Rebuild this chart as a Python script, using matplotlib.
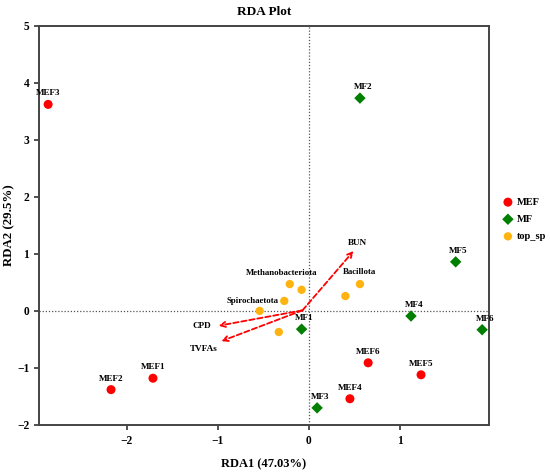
import matplotlib
matplotlib.use("Agg")
import matplotlib.pyplot as plt

plt.rcParams['font.family'] = ['Liberation Serif', 'DejaVu Serif']
plt.rcParams['font.weight'] = 'bold'

# Sample scores
mef_names = ["MEF1", "MEF2", "MEF3", "MEF4", "MEF5", "MEF6"]
mef_x = [-1.71, -2.17, -2.86, 0.45, 1.23, 0.65]
mef_y = [-1.18, -1.38, 3.62, -1.54, -1.12, -0.91]

mf_names = ["MF1", "MF2", "MF3", "MF4", "MF5", "MF6"]
mf_x = [-0.08, 0.56, 0.09, 1.12, 1.61, 1.90]
mf_y = [-0.32, 3.73, -1.70, -0.09, 0.86, -0.33]

# Species scores
sp_names = ["Methanobacteriota", "", "Spirochaetota", "", "", "", "Bacillota"]
sp_x = [-0.21, -0.08, -0.27, -0.54, -0.33, 0.40, 0.56]
sp_y = [0.47, 0.37, 0.175, 0.0, -0.37, 0.26, 0.47]

# Environmental vectors
env_names = ["BUN", "CPD", "TVFAs"]
env_x = [0.49, -0.99, -0.96]
env_y = [1.05, -0.26, -0.53]
origin = (-0.07, 0.01)

fig = plt.figure(figsize=(5.5, 4.72), dpi=100)
ax = fig.add_axes([0.0709, 0.0996, 0.8173, 0.846])

ax.axhline(0, color='#555555', ls=(0, (1, 1.5)), lw=0.9, zorder=1)
ax.axvline(0, color='#555555', ls=(0, (1, 1.5)), lw=0.9, zorder=1)

ax.scatter(mef_x, mef_y, s=42, marker='o', color='#ff0000', label='MEF', zorder=3, edgecolors='none')
ax.scatter(mf_x, mf_y, s=34, marker='D', color='#007f00', label='MF', zorder=3, edgecolors='none')
ax.scatter(sp_x, sp_y, s=36, marker='o', color='#ffb310', label='top_sp', zorder=3, edgecolors='none')

lab_kw = dict(textcoords='offset points', ha='center', va='bottom', fontsize=6.6, fontweight='bold')
for n, x, y in zip(mef_names, mef_x, mef_y):
    ax.annotate(n, (x, y), xytext=(0, 5), **lab_kw)
for n, x, y in zip(mf_names, mf_x, mf_y):
    ax.annotate(n, (x, y), xytext=(2, 5), **lab_kw)

sp_offsets = {"Methanobacteriota": (-6, 5, 'center', 'bottom'),
              "Spirochaetota": (-4, 0, 'right', 'center'),
              "Bacillota": (0, 6, 'center', 'bottom')}
for n, x, y in zip(sp_names, sp_x, sp_y):
    if n:
        dx, dy, ha, va = sp_offsets[n]
        ax.annotate(n, (x, y), xytext=(dx, dy), textcoords='offset points', ha=ha, va=va,
                    fontsize=6.3, fontweight='bold')

env_lab = {"BUN": (3, 3, 'center', 'bottom'), "CPD": (-5, 0, 'right', 'center'),
           "TVFAs": (-3, -6, 'right', 'center')}
for n, x, y in zip(env_names, env_x, env_y):
    ax.annotate('', xy=(x, y), xytext=origin,
                arrowprops=dict(arrowstyle='->', color='#ff0000', lw=1.3, ls=(0, (3, 1.5)),
                                shrinkA=0, shrinkB=0, mutation_scale=9))
    dx, dy, ha, va = env_lab[n]
    ax.annotate(n, (x, y), xytext=(dx, dy), textcoords='offset points', ha=ha, va=va,
                fontsize=6.6, fontweight='bold')

ax.set_xlim(-2.96, 1.97)
ax.set_ylim(-2, 5)
ax.set_xticks([-2, -1, 0, 1])
ax.set_yticks([-2, -1, 0, 1, 2, 3, 4, 5])
ax.set_xticklabels(['\u22122', '\u22121', '0', '1'])
ax.set_yticklabels(['\u22122', '\u22121', '0', '1', '2', '3', '4', '5'])
ax.tick_params(labelsize=8.3, width=1.2, length=3.5, color='#333333')
for lab in ax.get_xticklabels() + ax.get_yticklabels():
    lab.set_fontweight('bold')
for sp in ax.spines.values():
    sp.set_linewidth(1.4)
    sp.set_color('#444444')

ax.set_xlabel('RDA1 (47.03%)', fontsize=9, fontweight='bold', labelpad=8)
ax.set_ylabel('RDA2 (29.5%)', fontsize=9.3, fontweight='bold', labelpad=1.5)
ax.set_title('RDA Plot', fontsize=9.5, fontweight='bold', pad=8)

leg = ax.legend(loc='center left', bbox_to_anchor=(1.02, 0.515), frameon=False, fontsize=7.5,
                handletextpad=0.3, labelspacing=0.75, borderaxespad=0, handlelength=1.2)
for t in leg.get_texts():
    t.set_fontweight('bold')

fig.savefig('out.png', dpi=100)
